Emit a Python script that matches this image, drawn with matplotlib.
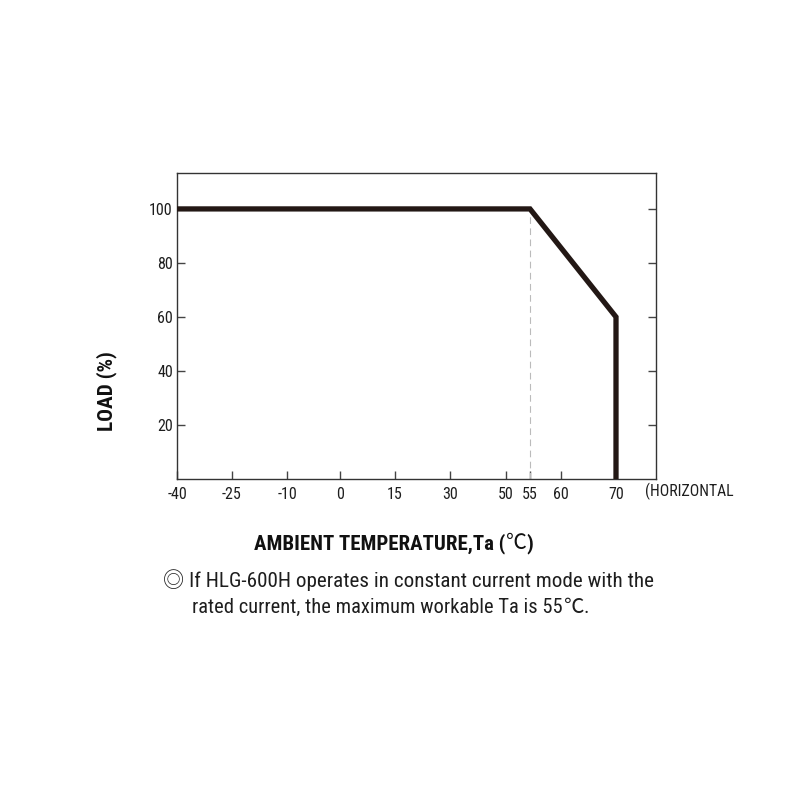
import numpy as np
import matplotlib
matplotlib.use("Agg")
import matplotlib.pyplot as plt
import matplotlib.ticker as mticker

# Derating curve data
temps = [-40, 55, 70, 70]
load = [100, 100, 60, 0]
x_ticks = [-40, -25, -10, 0, 15, 30, 50, 55, 60, 70]
y_ticks = [20, 40, 60, 80, 100]
knee_temp = 55

# Non-uniform temperature axis (piecewise linear)
axis_temps = [-40, -25, -10, 0, 15, 30, 50, 55, 60, 70, 77.3]
axis_pos = [0, 55, 110, 163, 218, 273, 329, 353, 384, 439, 479]

def fwd(x):
    return np.interp(x, axis_temps, axis_pos, left=-1e9, right=1e9)

def inv(p):
    return np.interp(p, axis_pos, axis_temps)

fam = ["Roboto Condensed", "Noto Sans CJK SC", "DejaVu Sans"]
cjk = ["Noto Sans CJK SC", "DejaVu Sans"]
plt.rcParams["font.family"] = fam

ink = "#231815"
W = 800
fig = plt.figure(figsize=(8, 8), dpi=100)
ax = fig.add_axes([177 / W, 1 - 479 / W, (656 - 177) / W, (479 - 173) / W])
ax.set_xscale("function", functions=(fwd, inv))
ax.set_xlim(-40, 77.3)
ax.set_ylim(0, 113.3)

ax.plot(temps, load, color=ink, lw=3.8, solid_joinstyle="miter", zorder=3)
ax.plot([knee_temp, knee_temp], [0, 100], color="#bbbbbb", lw=0.8, ls=(0, (6, 4)), zorder=2)

ax.set_xticks(x_ticks)
ax.set_xticklabels([str(t) for t in x_ticks])
ax.set_yticks(y_ticks)
ax.set_yticklabels([str(t) for t in y_ticks])
ax.xaxis.set_minor_locator(mticker.NullLocator())
ax.tick_params(axis="both", direction="in", length=6, width=1, color="#444444",
               labelsize=11.5, labelcolor="#1e1e1e")
ax.tick_params(axis="x", pad=6)
ax.tick_params(axis="y", right=True, pad=3)
for s in ax.spines.values():
    s.set_color("#333333")
    s.set_linewidth(1.0)

fig.canvas.draw()
r = fig.canvas.get_renderer()


def fit(t, target, dim="w"):
    bb = t.get_window_extent(r)
    cur = bb.width if dim == "w" else bb.height
    t.set_fontsize(t.get_fontsize() * target / cur)


def chain(x0, y, parts, target, center=False):
    """Lay text pieces side by side and scale them to a total width in pixels."""
    objs = [fig.text(0, 1 - y / W, s, ha="left", va="baseline", **kw) for s, kw in parts]

    def layout(start):
        x = start
        for o in objs:
            o.set_x(x / W)
            x += o.get_window_extent(r).width
        return x - start

    for _ in range(2):
        total = layout(x0)
        for o in objs:
            o.set_fontsize(o.get_fontsize() * target / total)
    total = layout(x0)
    if center:
        layout(x0 - total / 2)


t = fig.text(645 / W, 1 - 491 / W, "(HORIZONTAL", fontsize=11, color="#1e1e1e",
             ha="left", va="center")
fit(t, 88)
t = fig.text(107 / W, 1 - 391 / W, "LOAD (%)", fontsize=13, fontweight="bold",
             rotation=90, ha="center", va="center", color="#111111")
fit(t, 80, "h")

bold = dict(fontsize=13.5, fontweight="bold", color="#111111")
chain(394, 549, [("AMBIENT TEMPERATURE,Ta (", bold),
                 ("℃", dict(fontsize=13.5, color="#111111", family=cjk)),
                 (")", bold)], 280, center=True)

body = dict(fontsize=14.5, color="#1e1e1e")
chain(163, 587, [("◎ If HLG-600H operates in constant current mode with the", body)], 490)
chain(192, 613, [("rated current, the maximum workable Ta is 55", body),
                 ("℃", dict(body, family=cjk)),
                 (".", body)], 394)

fig.savefig("out.png", dpi=100, facecolor="white")
